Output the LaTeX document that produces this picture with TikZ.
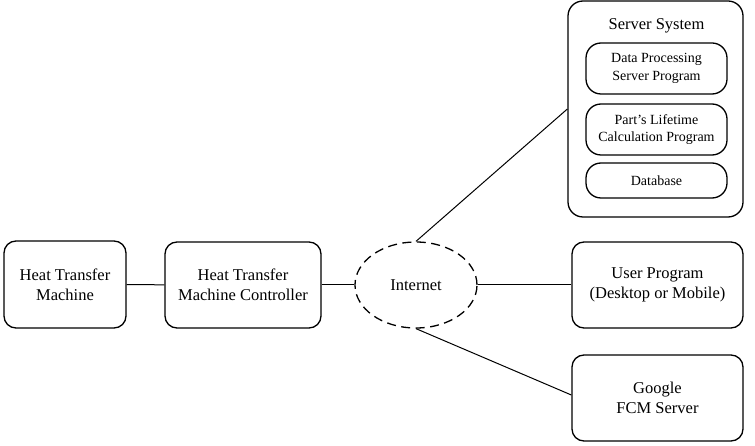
\documentclass[tikz,border=0pt]{standalone}
\usepackage{fontspec}
\setmainfont{Liberation Serif}
\usetikzlibrary{shapes.geometric}
\begin{document}
\begin{tikzpicture}[x=1pt,y=-1pt,
  box/.style={draw, line width=1.3pt, rounded corners=12pt, align=center,
    font=\fontsize{16.5}{20}\selectfont, inner sep=0pt},
  inbox/.style={draw, line width=1.3pt, rounded corners=15pt, align=center,
    font=\fontsize{14}{17.3}\selectfont, inner sep=0pt, minimum width=141pt},
  link/.style={line width=1pt}]
\useasboundingbox (0,0) rectangle (755,446);
\node[box, minimum width=122pt, minimum height=87pt] (htm) at (65,284.5) {Heat Transfer\\Machine};
\node[box, minimum width=156pt, minimum height=86pt] (htmc) at (243,285) {Heat Transfer\\Machine Controller};
\node[draw, ellipse, line width=1.3pt, dash pattern=on 9pt off 5.5pt, minimum width=122pt, minimum height=86pt,
  inner sep=0pt, font=\fontsize{16.5}{20}\selectfont] (net) at (416,285) {Internet};
\node[box, rounded corners=15pt, minimum width=175pt, minimum height=216pt] (srv) at (655.5,109) {};
\node[font=\fontsize{16.5}{20}\selectfont] (srvt) at (656.5,25.5) {Server System};
\node[inbox, minimum height=51pt] (dp) at (656.5,68.5) {Data Processing\\Server Program};
\node[inbox, minimum height=51pt] (plc) at (656.5,129.5) {Part\char"0027 s Lifetime\\Calculation Program};
\node[inbox, minimum height=35pt] (db) at (656.5,180.5) {Database};
\node[box, minimum width=171pt, minimum height=86pt] (usr) at (657.5,285) {User Program\\(Desktop or Mobile)};
\node[box, minimum width=171pt, minimum height=86pt] (fcm) at (657.5,398) {Google\\FCM Server};
\draw[link] (htm) -- (htmc);
\draw[link] (htmc) -- (net);
\draw[link] (net.north) -- (srv.west);
\draw[link] (net) -- (usr);
\draw[link] (net.south) -- ([yshift=3pt]fcm.west);
\end{tikzpicture}
\end{document}
